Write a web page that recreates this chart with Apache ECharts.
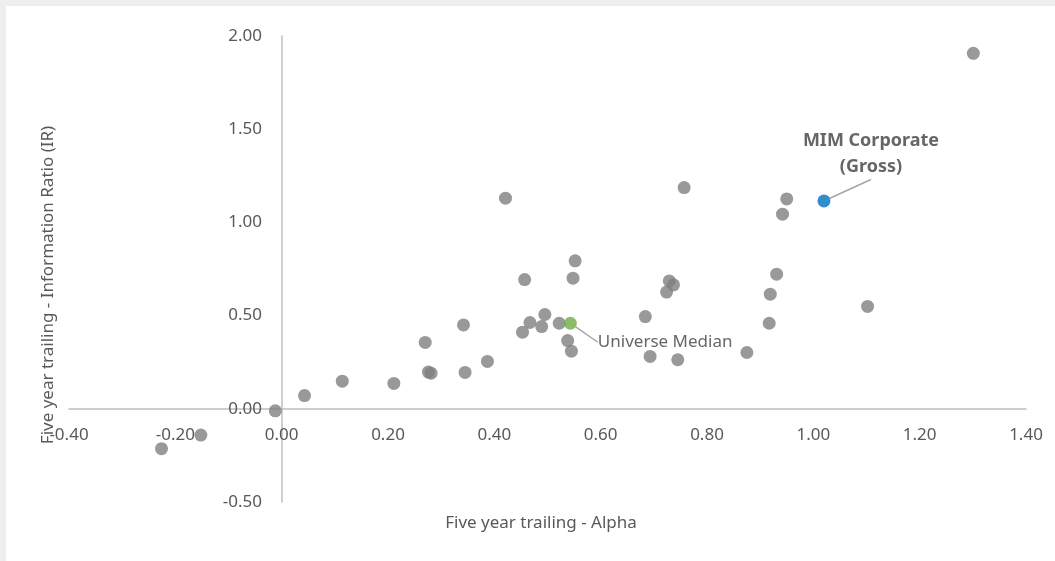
<!DOCTYPE html>
<html>
<head>
<meta charset="utf-8">
<script src="https://cdn.jsdelivr.net/npm/echarts@6/dist/echarts.min.js"></script>
<style>
  html, body { margin: 0; padding: 0; background: #edeeed; width: 1055px; height: 561px; overflow: hidden; }
  #chart { position: absolute; left: 6px; top: 6px; width: 1049px; height: 555px; background: #ffffff; }
</style>
</head>
<body>
<div id="chart"></div>
<script>
// ---- data ----
const xTitle = 'Five year trailing - Alpha';
const yTitle = 'Five year trailing - Information Ratio (IR)';

const peerAlpha = [-0.226, -0.152, -0.012, 0.043, 0.114, 0.211, 0.270, 0.276, 0.281, 0.342,
                   0.345, 0.387, 0.421, 0.453, 0.457, 0.467, 0.489, 0.495, 0.522, 0.538,
                   0.545, 0.548, 0.552, 0.684, 0.693, 0.724, 0.729, 0.737, 0.745, 0.757,
                   0.875, 0.917, 0.919, 0.931, 0.942, 0.950, 1.102, 1.301];
const peerIR    = [-0.214, -0.141, -0.011, 0.071, 0.148, 0.136, 0.356, 0.197, 0.191, 0.450,
                   0.195, 0.254, 1.130, 0.411, 0.693, 0.463, 0.441, 0.506, 0.459, 0.366,
                   0.309, 0.701, 0.794, 0.495, 0.281, 0.626, 0.686, 0.665, 0.263, 1.187,
                   0.302, 0.459, 0.615, 0.722, 1.044, 1.126, 0.549, 1.907];

const medianName = 'Universe Median';
const medianPoint = [0.543, 0.459];
const mimName = 'MIM Corporate\n(Gross)';
const mimPoint = [1.020, 1.115];

const xMin = -0.4, xMax = 1.4, xStep = 0.2;
const yMin = -0.5, yMax = 2.0, yStep = 0.5;

// ---- chart ----
const peerData = peerAlpha.map((a, i) => [a, peerIR[i]]);
const font = 'Noto Sans';
const chart = echarts.init(document.getElementById('chart'), null, { renderer: 'canvas' });

chart.setOption({
  animation: false,
  grid: { left: 63, right: 29, top: 30, bottom: 59, containLabel: false, outerBoundsMode: 'none' },
  xAxis: {
    type: 'value', min: xMin, max: xMax, interval: xStep,
    name: xTitle, nameLocation: 'middle', nameGap: 13, nameMoveOverlap: false,
    nameTextStyle: { color: '#595959', fontSize: 17, fontFamily: font, padding: [0, 13, 0, 0] },
    axisLine: { show: true, onZero: true, lineStyle: { color: '#bfbfbf', width: 1.5 } },
    axisTick: { show: false },
    splitLine: { show: false },
    axisLabel: { color: '#595959', fontSize: 17, fontFamily: font, margin: -75,
                 formatter: v => v.toFixed(2) }
  },
  yAxis: {
    type: 'value', min: yMin, max: yMax, interval: yStep,
    name: yTitle, nameLocation: 'middle', nameGap: 12, nameRotate: 90, nameMoveOverlap: false,
    nameTextStyle: { color: '#595959', fontSize: 17, fontFamily: font, padding: [0, 32, 0, 0] },
    axisLine: { show: true, onZero: true, lineStyle: { color: '#bfbfbf', width: 1.5 } },
    axisTick: { show: false },
    splitLine: { show: false },
    axisLabel: { color: '#595959', fontSize: 17, fontFamily: font, margin: -193,
                 formatter: v => v.toFixed(2) }
  },
  series: [
    {
      type: 'scatter', name: 'Peers', data: peerData, symbolSize: 13,
      itemStyle: { color: '#7f7f7f' }
    },
    {
      type: 'scatter', name: medianName, data: [medianPoint], symbolSize: 13,
      itemStyle: { color: '#70ad47' },
      label: { show: true, position: 'right', distance: 5, formatter: medianName,
               color: '#404040', fontSize: 17, fontFamily: font },
      labelLine: { show: true, lineStyle: { color: '#a6a6a6', width: 1.5 } },
      labelLayout: { dx: 16, dy: 19 }
    },
    {
      type: 'scatter', name: 'MIM', data: [mimPoint], symbolSize: 13,
      itemStyle: { color: '#0070c0' },
      label: { show: true, position: 'top', distance: 5, formatter: mimName, align: 'center',
               color: '#404040', fontSize: 18, fontWeight: 'bold', fontFamily: font, lineHeight: 26 },
      labelLine: { show: true, lineStyle: { color: '#a6a6a6', width: 1.5 } },
      labelLayout: { dx: 47, dy: -10 }
    }
  ]
});
</script>
</body>
</html>
